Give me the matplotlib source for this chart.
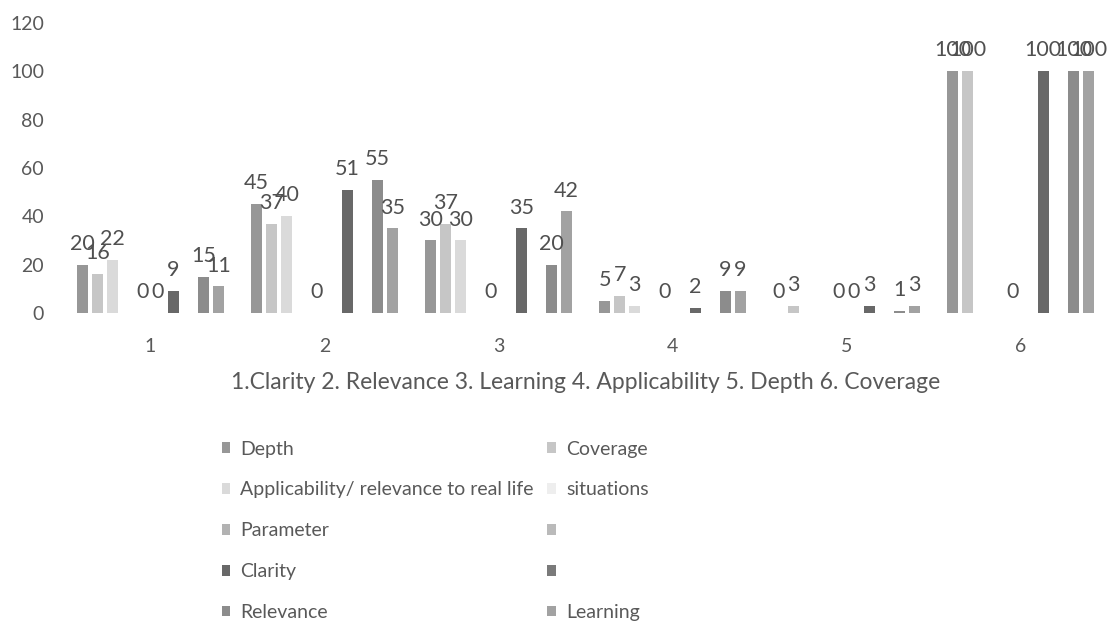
import numpy as np
import matplotlib.pyplot as plt
from matplotlib.patches import Patch

plt.rcParams['font.family'] = ['Lato', 'DejaVu Sans']

# categories and series (None = no bar/label)
categories = ["1", "2", "3", "4", "5", "6"]
series_names = ["Depth", "Coverage", "Applicability/ relevance to real life", "situations",
                "Parameter", "", "Clarity", "", "Relevance", "Learning"]

depth = [20, 45, 30, 5, 0, 100]
coverage = [16, 37, 37, 7, 3, 100]
applicability = [22, 40, 30, 3, None, None]
situations = [None, None, None, None, None, None]
parameter = [0, 0, 0, 0, 0, 0]
blank_a = [0, None, None, None, 0, None]
clarity = [9, 51, 35, 2, 3, 100]
blank_b = [None, None, None, None, None, None]
relevance = [15, 55, 20, 9, 1, 100]
learning = [11, 35, 42, 9, 3, 100]

all_series = [depth, coverage, applicability, situations, parameter,
              blank_a, clarity, blank_b, relevance, learning]
colors = ["#979797", "#c6c6c6", "#dadada", "#eeeeee", "#b2b2b2",
          "#bababa", "#686868", "#7a7a7a", "#8c8c8c", "#a2a2a2"]

txt = "#595959"

fig = plt.figure(figsize=(11.1, 6.35), dpi=100)
ax = fig.add_axes([63.5 / 1110, 1 - 313 / 635, 1044 / 1110, 290 / 635])

x = np.arange(len(categories))
slot = 0.0868
width = 0.063
handles = []
for i, (vals, col) in enumerate(zip(all_series, colors)):
    xs = x + (i - 4.5) * slot
    v = np.array([np.nan if a is None else a for a in vals], dtype=float)
    ax.bar(xs, np.nan_to_num(v), width=width, color=col, linewidth=0)
    for xi, vi in zip(xs, vals):
        if vi is None:
            continue
        ax.annotate(str(vi), (xi, vi), xytext=(0, 15), textcoords="offset points",
                    ha="center", va="center", fontsize=15.5, color="#505050")
    handles.append(Patch(facecolor=col, edgecolor="none"))

ax.set_xlim(-0.5, 5.5)
ax.set_ylim(0, 120)
ax.set_yticks(range(0, 121, 20))
ax.set_xticks(x)
ax.set_xticklabels(categories)
ax.tick_params(axis="both", length=0, labelsize=14, colors=txt)
ax.tick_params(axis="y", pad=14)
ax.tick_params(axis="x", pad=18)
for s in ax.spines.values():
    s.set_visible(False)
ax.set_xlabel("1.Clarity 2. Relevance 3. Learning 4. Applicability 5. Depth 6. Coverage",
              fontsize=16.5, color=txt, labelpad=12)

# legend laid out row by row like the original
order = [0, 2, 4, 6, 8, 1, 3, 5, 7, 9]
leg = fig.legend([handles[k] for k in order], [series_names[k] for k in order],
                 ncol=2, loc="upper left", bbox_to_anchor=(204 / 1110, 1 - 423 / 635),
                 frameon=False, fontsize=14, labelcolor=txt,
                 handlelength=0.45, handleheight=0.45, handletextpad=0.5,
                 labelspacing=1.23, columnspacing=0.72)

fig.savefig("out.png", dpi=100, facecolor="white")
